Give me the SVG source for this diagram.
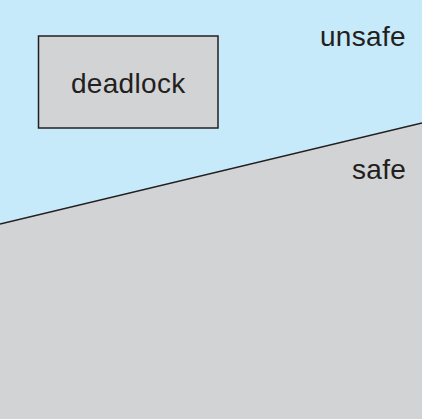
<svg xmlns="http://www.w3.org/2000/svg" width="422" height="419" viewBox="0 0 422 419">
<style>
.lbl{font-family:"Liberation Sans",Arial,sans-serif;font-size:28px;fill:#231f20;letter-spacing:0.3px}
</style>
<rect x="0" y="0" width="422" height="419" fill="#c7eafb"/>
<g id="safe-region">
<polygon points="0,224 422,123 422,419 0,419" fill="#d2d3d5"/>
<line x1="0" y1="224" x2="422" y2="123" stroke="#231f20" stroke-width="1.6"/>
<text class="lbl" x="352" y="179">safe</text>
</g>
<g id="unsafe-label">
<text class="lbl" x="320" y="46">unsafe</text>
</g>
<g id="deadlock">
<rect x="38.5" y="36" width="179.5" height="92" fill="#d2d3d5" stroke="#231f20" stroke-width="1.5"/>
<text class="lbl" x="71" y="92.5">deadlock</text>
</g>
<g id="connectors"></g>
</svg>
